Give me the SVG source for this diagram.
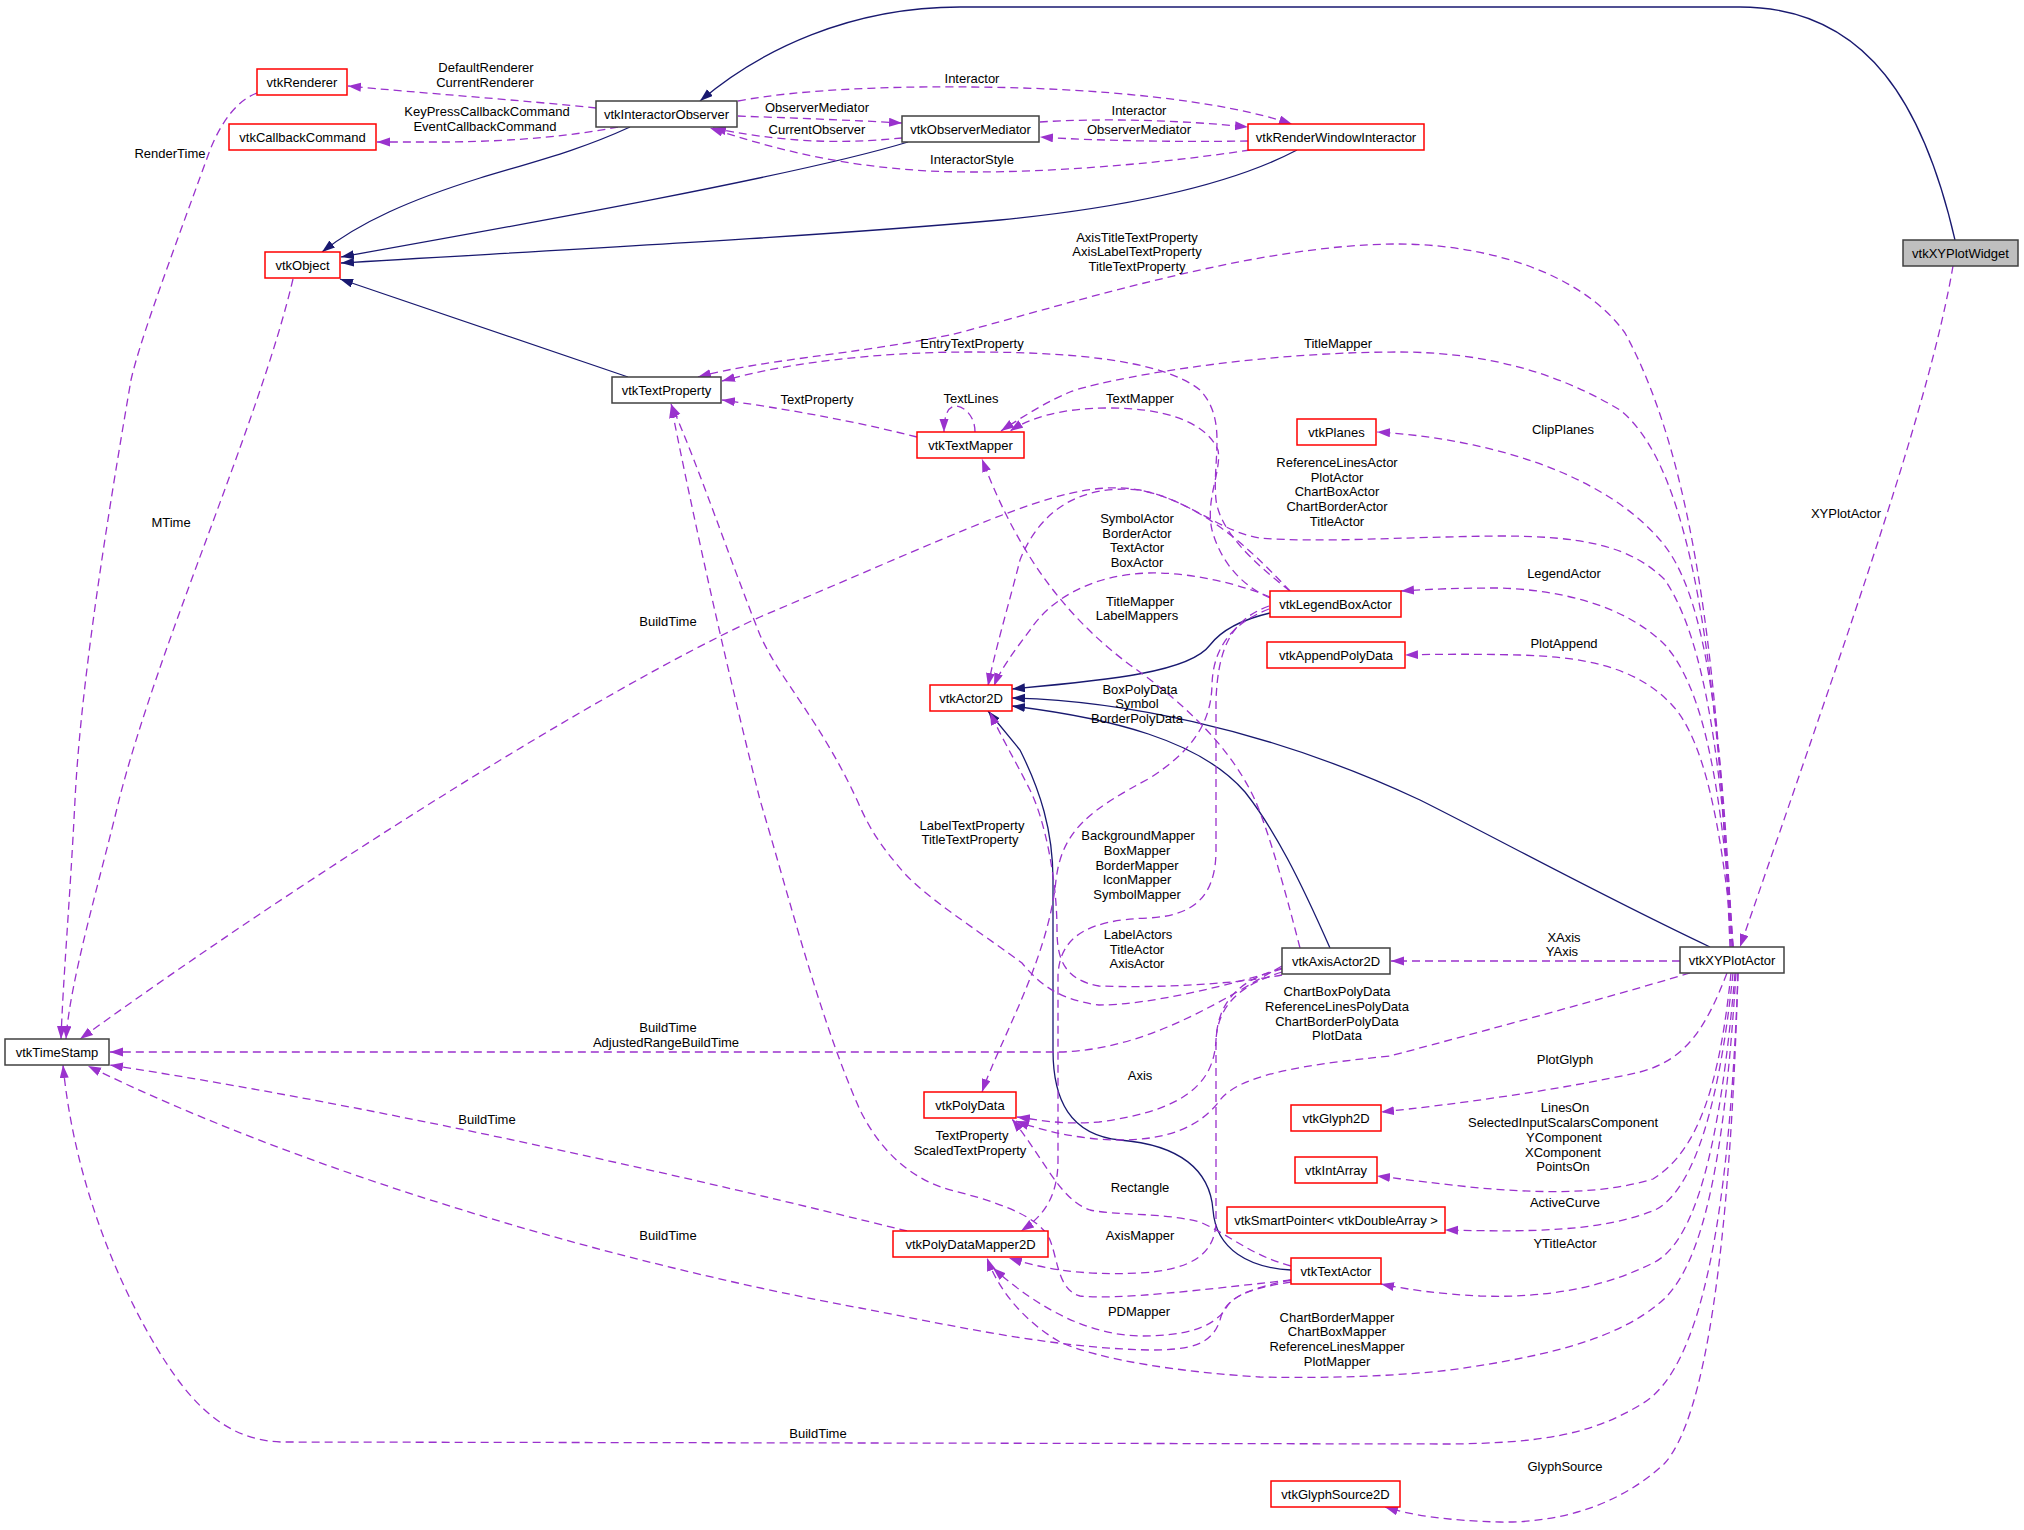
<svg xmlns="http://www.w3.org/2000/svg" width="2024" height="1530" viewBox="0 0 2024 1530">
<style>
text{font-family:"Liberation Sans",Arial,sans-serif;font-size:13px;fill:#000;text-anchor:middle}
.red{fill:#fff;stroke:#ff0000;stroke-width:1.5}
.blk{fill:#fff;stroke:#404040;stroke-width:1.5}
.gry{fill:#bfbfbf;stroke:#404040;stroke-width:1.5}
.inh{fill:none;stroke:#191970;stroke-width:1.3;marker-end:url(#ah)}
.use{fill:none;stroke:#9a32cd;stroke-width:1.3;stroke-dasharray:8,5;marker-end:url(#ap)}
</style>
<defs>
<marker id="ah" markerWidth="14" markerHeight="11" refX="13" refY="4.5" orient="auto" markerUnits="userSpaceOnUse"><path d="M0,0 L13,4.5 L0,9 z" fill="#191970"/></marker>
<marker id="ap" markerWidth="14" markerHeight="11" refX="13" refY="4.5" orient="auto" markerUnits="userSpaceOnUse"><path d="M0,0 L13,4.5 L0,9 z" fill="#9a32cd"/></marker>
</defs>
<rect width="2024" height="1530" fill="#fff"/>
<g id="connectors">
<path class="inh" d="M1955,240 C1925,110 1870,7 1740,7 L960,7 C850,7 760,50 700,101"/>
<path class="inh" d="M630,127 C580,150 540,160 480,178 C410,200 360,222 322,252"/>
<path class="inh" d="M908,142 C800,175 520,225 341,257"/>
<path class="inh" d="M1297,150 C1240,180 1150,205 1000,220 C800,238 520,252 341,263"/>
<path class="inh" d="M628,377 L340,279"/>
<path class="inh" d="M1270,613 C1240,620 1220,632 1210,645 C1190,672 1110,680 1012,689"/>
<path class="inh" d="M1710,947 C1600,895 1500,840 1420,800 C1260,725 1110,700 1012,698"/>
<path class="inh" d="M1330,948 C1300,880 1275,830 1245,792 C1200,740 1110,718 1012,706"/>
<path class="inh" d="M1291,1270 C1250,1268 1216,1250 1213,1210 C1210,1170 1180,1145 1120,1140 C1070,1135 1053,1100 1053,1050 L1053,880 C1053,830 1040,790 1020,750 L988,711"/>

<path class="use" d="M596,108 C520,100 420,93 348,86"/>
<path class="use" d="M618,127 C570,136 520,141 450,142 L377,142"/>
<path class="use" d="M257,93 C238,100 222,120 210,150 C170,260 140,340 131,380 C100,560 80,700 75,800 C70,900 63,980 61,1039"/>
<path class="use" d="M293,279 C260,420 160,640 119,800 C100,880 70,980 66,1039"/>
<path class="use" d="M738,101 C800,89 900,86 972,87 C1100,88 1220,100 1292,124"/>
<path class="use" d="M738,116 C790,118 850,120 902,123"/>
<path class="use" d="M902,138 C860,142 800,146 713,128"/>
<path class="use" d="M1040,122 C1100,118 1180,120 1248,127"/>
<path class="use" d="M1248,141 C1180,142 1100,141 1040,137"/>
<path class="use" d="M1250,150 C1150,165 1050,172 972,172 C880,172 800,158 710,128"/>
<path class="use" d="M1953,266 C1930,400 1860,600 1740,947"/>
<path class="use" d="M1730,947 C1720,700 1700,470 1625,333 C1580,270 1480,244 1398,244 C1250,244 1050,310 950,335 C850,355 760,360 698,377"/>
<path class="use" d="M1731,947 C1718,680 1695,470 1620,410 C1540,362 1460,352 1398,352 C1250,352 1100,380 1070,392 C1050,400 1025,415 1001,431"/>
<path class="use" d="M1290,591 C1250,560 1220,530 1216,500 C1212,460 1228,420 1200,390 C1160,358 1060,352 972,352 C880,352 790,362 722,381"/>
<path class="use" d="M917,437 C850,420 780,408 722,400"/>
<path class="use" d="M975,432 C975,414 962,406 956,406 C948,406 944,415 944,432"/>
<path class="use" d="M1732,947 C1722,720 1705,590 1660,540 C1600,470 1480,438 1377,432"/>
<path class="use" d="M1733,947 C1722,760 1705,640 1665,580 C1630,545 1580,536 1500,536 C1400,537 1320,543 1260,538 C1220,532 1190,500 1140,490 C1080,484 1040,510 1020,560 C1010,600 995,650 988,686"/>
<path class="use" d="M1270,597 C1230,580 1180,572 1148,573 C1090,575 1050,600 1030,630 C1015,650 1000,670 994,686"/>
<path class="use" d="M1270,598 C1240,585 1220,560 1212,530 C1205,500 1222,470 1218,450 C1205,420 1160,408 1110,408 C1060,408 1030,418 1010,431"/>
<path class="use" d="M1290,591 C1260,560 1210,505 1140,490 C1070,478 1000,515 760,617 C600,690 300,880 80,1039"/>
<path class="use" d="M1269,606 C1230,620 1218,650 1216,700 L1216,850 C1216,900 1190,916 1148,918 C1090,920 1060,935 1058,975 L1058,1160 C1058,1195 1045,1215 1021,1231"/>
<path class="use" d="M1269,609 C1235,622 1213,645 1212,685 C1211,725 1190,752 1150,778 C1090,810 1062,830 1056,880 C1048,960 1000,1040 982,1092"/>
<path class="use" d="M1300,948 C1285,890 1270,835 1255,800 C1230,745 1180,700 1130,665 C1070,620 1020,560 982,459"/>
<path class="use" d="M1282,969 C1230,985 1150,1005 1099,1005 C1060,1000 1040,985 1022,963 C970,925 930,900 905,874 C880,845 870,830 857,800 C820,720 780,680 760,635 C730,560 700,470 671,404"/>
<path class="use" d="M1291,1280 C1200,1290 1120,1300 1080,1296 C1058,1290 1058,1260 1050,1240 C1040,1215 990,1200 954,1191 C910,1180 880,1150 860,1110 C820,1020 790,900 760,800 C730,680 700,550 671,405"/>
<path class="use" d="M1733,947 C1722,790 1705,690 1665,645 C1625,605 1560,590 1500,588 C1460,588 1430,589 1401,591"/>
<path class="use" d="M1733,947 C1722,830 1705,740 1672,705 C1635,665 1580,657 1520,655 C1480,654 1440,654 1405,655"/>
<path class="use" d="M1680,961 L1391,961"/>
<path class="use" d="M1282,966 C1230,995 1150,1050 1060,1052 L110,1052"/>
<path class="use" d="M907,1231 C700,1180 400,1110 110,1065"/>
<path class="use" d="M1291,1282 C1240,1290 1225,1300 1220,1320 C1212,1345 1190,1350 1150,1350 C1050,1348 950,1325 860,1308 C600,1260 300,1170 88,1066"/>
<path class="use" d="M1738,973 C1730,1200 1705,1370 1640,1405 C1590,1435 1540,1443 1450,1444 L281,1442 C220,1440 185,1395 155,1345 C105,1260 72,1160 63,1065"/>
<path class="use" d="M1282,968 C1240,980 1218,1000 1216,1040 C1214,1080 1190,1110 1099,1122 C1060,1125 1040,1120 1017,1117"/>
<path class="use" d="M1282,972 C1240,985 1218,1005 1216,1040 L1216,1220 C1216,1255 1190,1270 1140,1273 C1080,1276 1040,1268 1009,1258"/>
<path class="use" d="M1282,975 C1230,985 1150,988 1099,986 C1065,980 1057,960 1057,930 C1057,880 1045,820 1030,790 C1015,760 1000,735 990,712"/>
<path class="use" d="M1291,1266 C1250,1255 1230,1235 1200,1222 C1160,1212 1120,1216 1090,1210 C1060,1200 1045,1160 1012,1119"/>
<path class="use" d="M1291,1280 C1240,1290 1230,1300 1225,1310 C1210,1330 1180,1336 1140,1336 C1090,1335 1040,1310 993,1268"/>
<path class="use" d="M1690,973 C1600,1000 1450,1040 1390,1056 C1300,1065 1240,1075 1220,1100 C1200,1128 1165,1140 1120,1140 C1080,1140 1040,1130 1016,1121"/>
<path class="use" d="M1727,973 C1705,1030 1685,1060 1640,1072 C1560,1090 1450,1105 1381,1112"/>
<path class="use" d="M1731,973 C1720,1080 1700,1150 1653,1179 C1600,1195 1540,1193 1480,1188 C1440,1184 1410,1180 1377,1176"/>
<path class="use" d="M1733,973 C1720,1100 1695,1190 1655,1210 C1600,1232 1530,1232 1445,1230"/>
<path class="use" d="M1735,973 C1720,1150 1695,1240 1655,1262 C1600,1290 1540,1298 1480,1296 C1440,1294 1410,1290 1381,1284"/>
<path class="use" d="M1736,973 C1725,1150 1705,1270 1657,1305 C1620,1335 1560,1355 1450,1370 C1380,1378 1300,1378 1260,1377 C1180,1372 1100,1360 1060,1342 C1030,1325 1000,1295 987,1258"/>
<path class="use" d="M1738,973 C1730,1250 1705,1420 1664,1464 C1620,1505 1560,1523 1500,1522 C1450,1521 1410,1515 1385,1507"/>
</g>
<g id="edge-labels">
<text x="486" y="72">DefaultRenderer</text><text x="485" y="87">CurrentRenderer</text>
<text x="487" y="116">KeyPressCallbackCommand</text><text x="485" y="131">EventCallbackCommand</text>
<text x="170" y="158">RenderTime</text>
<text x="171" y="527">MTime</text>
<text x="972" y="83">Interactor</text>
<text x="817" y="112">ObserverMediator</text>
<text x="817" y="134">CurrentObserver</text>
<text x="1139" y="115">Interactor</text>
<text x="1139" y="134">ObserverMediator</text>
<text x="972" y="164">InteractorStyle</text>
<text x="1846" y="518">XYPlotActor</text>
<text x="1137" y="242">AxisTitleTextProperty</text><text x="1137" y="256">AxisLabelTextProperty</text><text x="1137" y="271">TitleTextProperty</text>
<text x="972" y="348">EntryTextProperty</text>
<text x="1338" y="348">TitleMapper</text>
<text x="817" y="404">TextProperty</text>
<text x="971" y="403">TextLines</text>
<text x="1140" y="403">TextMapper</text>
<text x="1563" y="434">ClipPlanes</text>
<text x="1337" y="467">ReferenceLinesActor</text><text x="1337" y="482">PlotActor</text><text x="1337" y="496">ChartBoxActor</text><text x="1337" y="511">ChartBorderActor</text><text x="1337" y="526">TitleActor</text>
<text x="1137" y="523">SymbolActor</text><text x="1137" y="538">BorderActor</text><text x="1137" y="552">TextActor</text><text x="1137" y="567">BoxActor</text>
<text x="1564" y="578">LegendActor</text>
<text x="1140" y="606">TitleMapper</text><text x="1137" y="620">LabelMappers</text>
<text x="668" y="626">BuildTime</text>
<text x="1564" y="648">PlotAppend</text>
<text x="1140" y="694">BoxPolyData</text><text x="1137" y="708">Symbol</text><text x="1137" y="723">BorderPolyData</text>
<text x="972" y="830">LabelTextProperty</text><text x="970" y="844">TitleTextProperty</text>
<text x="1138" y="840">BackgroundMapper</text><text x="1137" y="855">BoxMapper</text><text x="1137" y="870">BorderMapper</text><text x="1137" y="884">IconMapper</text><text x="1137" y="899">SymbolMapper</text>
<text x="1138" y="939">LabelActors</text><text x="1137" y="954">TitleActor</text><text x="1137" y="968">AxisActor</text>
<text x="1564" y="942">XAxis</text><text x="1562" y="956">YAxis</text>
<text x="1337" y="996">ChartBoxPolyData</text><text x="1337" y="1011">ReferenceLinesPolyData</text><text x="1337" y="1026">ChartBorderPolyData</text><text x="1337" y="1040">PlotData</text>
<text x="668" y="1032">BuildTime</text><text x="666" y="1047">AdjustedRangeBuildTime</text>
<text x="1140" y="1080">Axis</text>
<text x="1565" y="1064">PlotGlyph</text>
<text x="1565" y="1112">LinesOn</text><text x="1563" y="1127">SelectedInputScalarsComponent</text><text x="1564" y="1142">YComponent</text><text x="1563" y="1157">XComponent</text><text x="1563" y="1171">PointsOn</text>
<text x="487" y="1124">BuildTime</text>
<text x="972" y="1140">TextProperty</text><text x="970" y="1155">ScaledTextProperty</text>
<text x="1140" y="1192">Rectangle</text>
<text x="1565" y="1207">ActiveCurve</text>
<text x="668" y="1240">BuildTime</text>
<text x="1140" y="1240">AxisMapper</text>
<text x="1565" y="1248">YTitleActor</text>
<text x="1139" y="1316">PDMapper</text>
<text x="1337" y="1322">ChartBorderMapper</text><text x="1337" y="1336">ChartBoxMapper</text><text x="1337" y="1351">ReferenceLinesMapper</text><text x="1337" y="1366">PlotMapper</text>
<text x="818" y="1438">BuildTime</text>
<text x="1565" y="1471">GlyphSource</text>
</g>
<g id="vtkXYPlotWidget"><rect class="gry" x="1903" y="240" width="115" height="26"/><text x="1960.5" y="257.5">vtkXYPlotWidget</text></g>
<g id="vtkInteractorObserver"><rect class="blk" x="596" y="101" width="141" height="26"/><text x="666.5" y="118.5">vtkInteractorObserver</text></g>
<g id="vtkRenderer"><rect class="red" x="257" y="69" width="90" height="26"/><text x="302" y="86.5">vtkRenderer</text></g>
<g id="vtkCallbackCommand"><rect class="red" x="229" y="124" width="147" height="26"/><text x="302.5" y="141.5">vtkCallbackCommand</text></g>
<g id="vtkObject"><rect class="red" x="265" y="252" width="75" height="26"/><text x="302.5" y="269.5">vtkObject</text></g>
<g id="vtkTimeStamp"><rect class="blk" x="5" y="1039" width="104" height="26"/><text x="57" y="1056.5">vtkTimeStamp</text></g>
<g id="vtkTextProperty"><rect class="blk" x="612" y="377" width="109" height="26"/><text x="666.5" y="394.5">vtkTextProperty</text></g>
<g id="vtkObserverMediator"><rect class="blk" x="902" y="116" width="137" height="26"/><text x="970.5" y="133.5">vtkObserverMediator</text></g>
<g id="vtkTextMapper"><rect class="red" x="917" y="432" width="107" height="26"/><text x="970.5" y="449.5">vtkTextMapper</text></g>
<g id="vtkActor2D"><rect class="red" x="930" y="685" width="82" height="26"/><text x="971" y="702.5">vtkActor2D</text></g>
<g id="vtkPolyData"><rect class="red" x="924" y="1092" width="92" height="26"/><text x="970" y="1109.5">vtkPolyData</text></g>
<g id="vtkPolyDataMapper2D"><rect class="red" x="893" y="1231" width="155" height="26"/><text x="970.5" y="1248.5">vtkPolyDataMapper2D</text></g>
<g id="vtkRenderWindowInteractor"><rect class="red" x="1248" y="124" width="176" height="26"/><text x="1336" y="141.5">vtkRenderWindowInteractor</text></g>
<g id="vtkPlanes"><rect class="red" x="1297" y="419" width="79" height="26"/><text x="1336.5" y="436.5">vtkPlanes</text></g>
<g id="vtkLegendBoxActor"><rect class="red" x="1270" y="591" width="131" height="26"/><text x="1335.5" y="608.5">vtkLegendBoxActor</text></g>
<g id="vtkAppendPolyData"><rect class="red" x="1267" y="642" width="138" height="26"/><text x="1336" y="659.5">vtkAppendPolyData</text></g>
<g id="vtkAxisActor2D"><rect class="blk" x="1282" y="948" width="108" height="26"/><text x="1336" y="965.5">vtkAxisActor2D</text></g>
<g id="vtkGlyph2D"><rect class="red" x="1291" y="1105" width="90" height="26"/><text x="1336" y="1122.5">vtkGlyph2D</text></g>
<g id="vtkIntArray"><rect class="red" x="1295" y="1157" width="82" height="26"/><text x="1336" y="1174.5">vtkIntArray</text></g>
<g id="vtkSmartPointer"><rect class="red" x="1227" y="1207" width="218" height="26"/><text x="1336" y="1224.5">vtkSmartPointer&lt; vtkDoubleArray &gt;</text></g>
<g id="vtkTextActor"><rect class="red" x="1291" y="1258" width="90" height="26"/><text x="1336" y="1275.5">vtkTextActor</text></g>
<g id="vtkGlyphSource2D"><rect class="red" x="1271" y="1481" width="129" height="26"/><text x="1335.5" y="1498.5">vtkGlyphSource2D</text></g>
<g id="vtkXYPlotActor"><rect class="blk" x="1680" y="947" width="104" height="26"/><text x="1732" y="964.5">vtkXYPlotActor</text></g>
</svg>
